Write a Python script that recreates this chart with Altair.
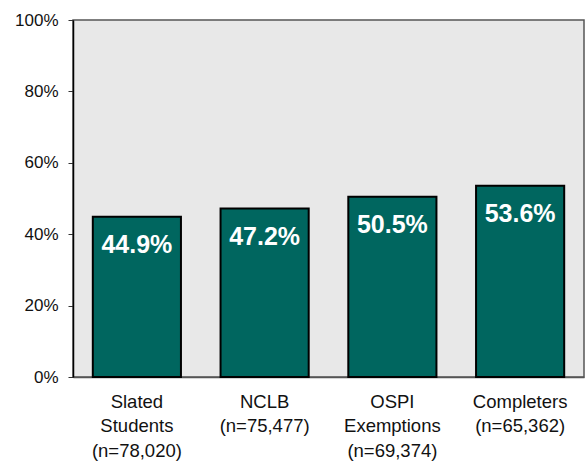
import altair as alt
import pandas as pd

categories = ["Slated|Students|(n=78,020)", "NCLB|(n=75,477)", "OSPI|Exemptions|(n=69,374)", "Completers|(n=65,362)"]
values = [0.449, 0.472, 0.505, 0.536]
labels = ["44.9%", "47.2%", "50.5%", "53.6%"]

df = pd.DataFrame({"cat": categories, "val": values, "lab": labels})

FONT = "Liberation Sans"

x = alt.X("cat:N", sort=categories, title=None,
          scale=alt.Scale(paddingInner=0.31, paddingOuter=0.155),
          axis=alt.Axis(labelAngle=0, ticks=False, labelPadding=15, labelFontSize=18.5,
                        labelFont=FONT, labelColor="#111", labelLineHeight=24.5,
                        labelExpr="split(datum.label, '|')", domain=True,
                        domainColor="#555", domainWidth=1.5, labelBaseline="top"))
y = alt.Y("val:Q", title=None, scale=alt.Scale(domain=[0, 1]),
          axis=alt.Axis(format=".0%", values=[0, 0.2, 0.4, 0.6, 0.8, 1.0], grid=False,
                        tickSize=5, tickColor="#333", labelPadding=10, labelFontSize=17,
                        labelFont=FONT, labelColor="#111", domainColor="#000",
                        domainWidth=1.5))

bars = alt.Chart(df).mark_bar(color="#00665f", stroke="#000", strokeWidth=2).encode(x=x, y=y)
text = alt.Chart(df).mark_text(color="white", fontSize=25, fontWeight="bold", font=FONT,
                               dy=28.5, baseline="middle").encode(
    x=alt.X("cat:N", sort=categories), y="val:Q", text="lab:N")

chart = (bars + text).properties(
    width=511, height=357,
    autosize=alt.AutoSizeParams(type="none"),
    padding={"left": 73, "top": 20, "right": 2, "bottom": 84},
    background="white",
).configure_view(fill="#e8e8e8", stroke="#555", strokeWidth=1.5)

chart.save("out.html", embed_options={"renderer": "svg", "actions": False})
